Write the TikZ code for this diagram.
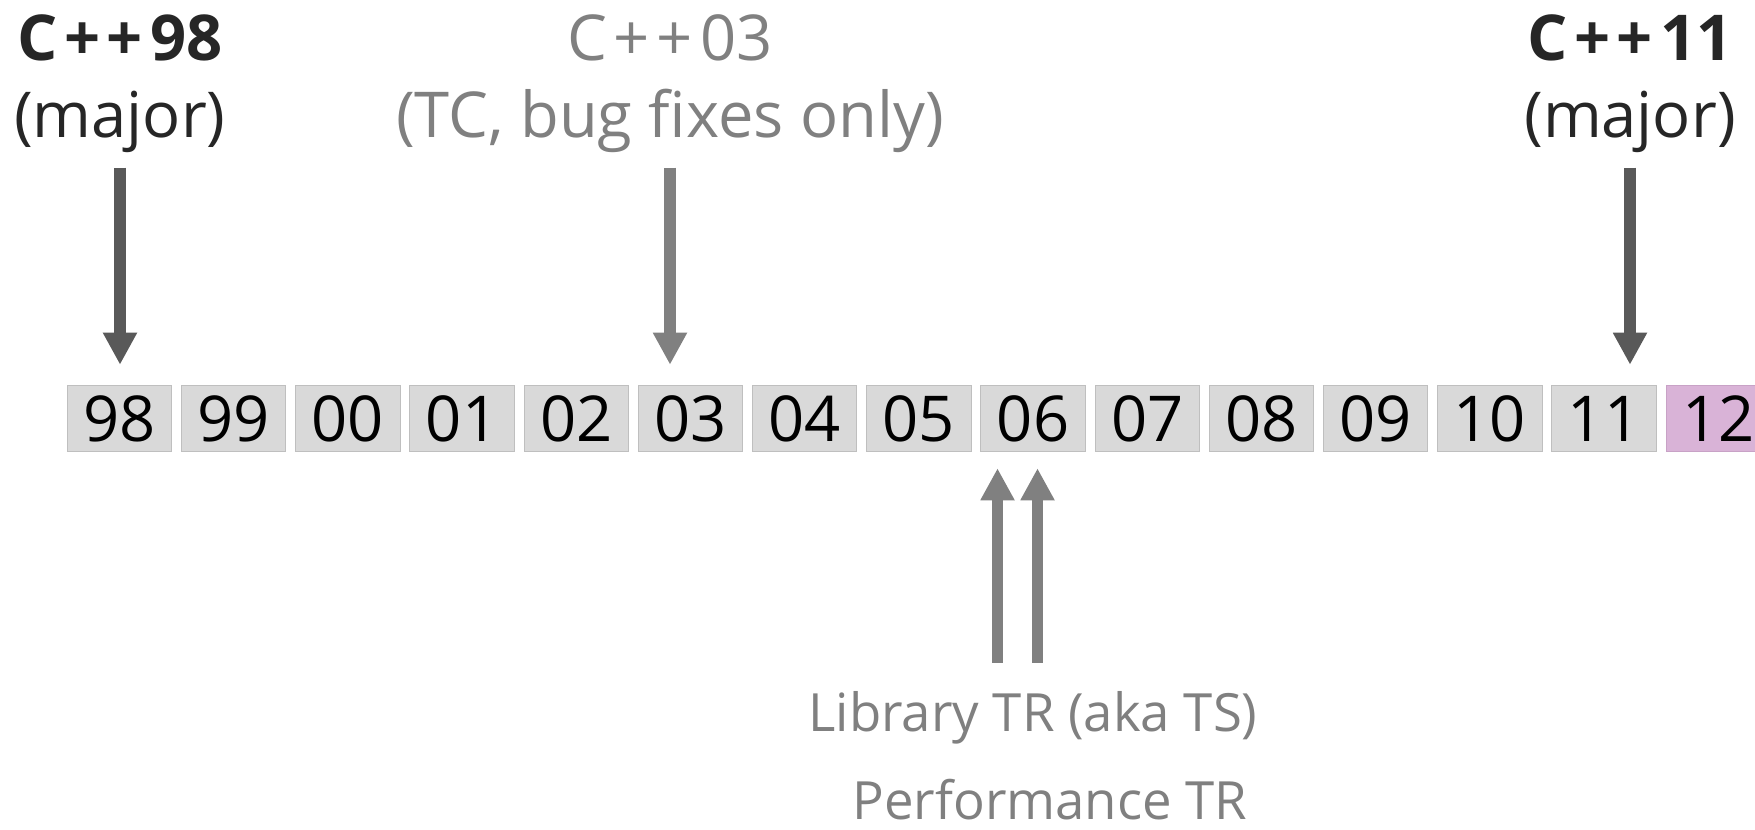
\documentclass[tikz,border=0pt]{standalone}
\usepackage{fontspec}
\setmainfont{Open Sans}
\usetikzlibrary{arrows.meta}
\definecolor{boxgray}{HTML}{D9D9D9}
\definecolor{boxedge}{HTML}{BFBFBF}
\definecolor{newfill}{HTML}{D9B3D7}
\definecolor{newedge}{HTML}{C8A2C6}
\definecolor{darkgray}{HTML}{595959}
\definecolor{midgray}{HTML}{808080}
\definecolor{darktext}{HTML}{262626}
\newcommand\cplusplus{C\kern.1em+\kern.1em+\kern.12em}
\tikzset{
	yearbox/.style={draw=boxedge,fill=boxgray,line width=0.6pt,minimum width=2.09cm,minimum height=1.33cm,inner sep=0pt,font=\fontsize{36}{36}\selectfont},
	release/.style={anchor=base,inner sep=0pt,font=\fontsize{36}{36}\selectfont},
	report/.style={anchor=base,inner sep=0pt,text=midgray,font=\fontsize{30}{30}\selectfont},
	downarrow/.style={line width=0.23cm,-{Triangle[width=0.64cm,length=0.64cm]},shorten <=0.28cm,shorten >=0.4cm},
	uparrow/.style={line width=0.23cm,midgray,-{Triangle[width=0.64cm,length=0.64cm]},shorten >=0.32cm}
}
\begin{document}
\begin{tikzpicture}[x=0.02cm,y=-0.02cm]
		\useasboundingbox (0,0) rectangle (1755,830);
		\foreach \yr [count=\i from 0] in {98,99,00,01,02,03,04,05,06,07,08,09,10,11}
		{
			\node[yearbox] (y\yr) at (119.5+114.2*\i,418.5) {\yr};
		}
		\node[yearbox,fill=newfill,draw=newedge] (y12) at (1718.3,418.5) {12};
		\node[release,text=darktext,font=\fontsize{36}{36}\selectfont\bfseries] (cpp98) at (120,61) {\cplusplus98};
		\node[release,text=darktext] (cpp98note) at (120,138) {(major)};
		\node[release,text=midgray] (cpp03) at (670,61) {\cplusplus03};
		\node[release,text=midgray] (cpp03note) at (670,138) {(TC, bug fixes only)};
		\node[release,text=darktext,font=\fontsize{36}{36}\selectfont\bfseries] (cpp11) at (1630,61) {\cplusplus11};
		\node[release,text=darktext] (cpp11note) at (1630,138) {(major)};
		\draw[downarrow,darkgray] (cpp98note.south) -- (cpp98note.south |- y98.north);
		\draw[downarrow,midgray] (cpp03note.south) -- (cpp03note.south |- y03.north);
		\draw[downarrow,darkgray] (cpp11note.south) -- (cpp11note.south |- y11.north);
		\node[report] (libtr) at (1033,732) {Library TR (aka TS)};
		\node[report] (perftr) at (1050,820) {Performance TR};
		\coordinate (libtail) at (997.5,663);
		\coordinate (perftail) at (1037.5,663);
		\draw[uparrow] (libtail) -- (libtail |- y06.south);
		\draw[uparrow] (perftail) -- (perftail |- y06.south);
\end{tikzpicture}
\end{document}
